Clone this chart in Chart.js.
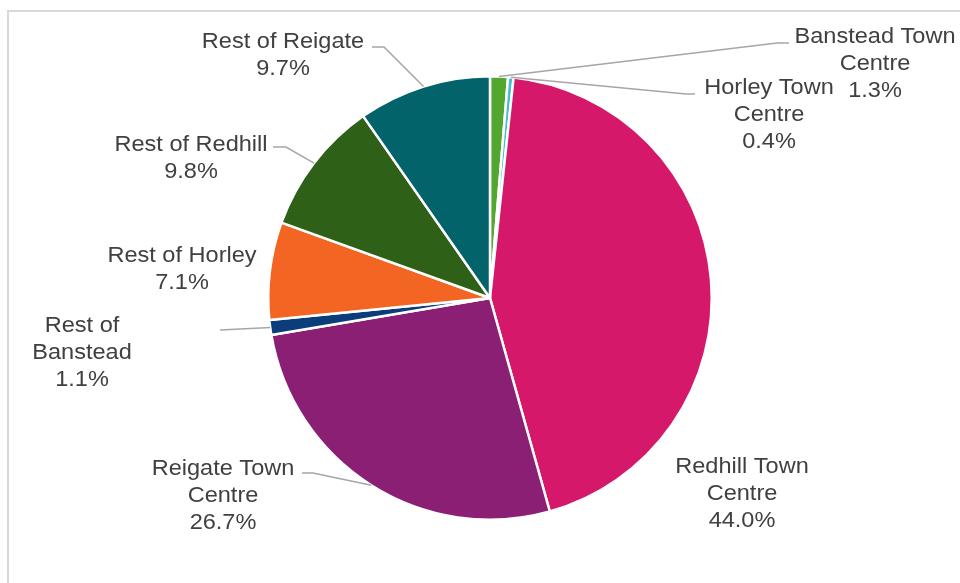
<!DOCTYPE html>
<html>
<head>
<meta charset="utf-8">
<title>Share by area</title>
<script src="https://cdn.jsdelivr.net/npm/chart.js@4.4.0/dist/chart.umd.min.js"></script>
<style>
  html, body { margin: 0; padding: 0; background: #ffffff; }
  #wrap { width: 960px; height: 583px; }
</style>
</head>
<body>
<div id="wrap"><canvas id="pie" width="960" height="583"></canvas></div>
<script>
// Areas, clockwise from the top of the pie
const categories = [
  'Banstead Town Centre',
  'Horley Town Centre',
  'Redhill Town Centre',
  'Reigate Town Centre',
  'Rest of Banstead',
  'Rest of Horley',
  'Rest of Redhill',
  'Rest of Reigate'
];

// Share of the total, per cent
const shares = [1.3, 0.4, 44.0, 26.7, 1.1, 7.1, 9.8, 9.7];

const sliceColours = [
  '#52A72E', '#45BCD0', '#D5186A', '#8A1F73',
  '#0B3D7A', '#F26522', '#2E6017', '#02636A'
];

// Label placement: centre x, first baseline y, wrap width,
// and the leader line's start and elbow (null = no leader)
const labelLayout = [
  { x: 875, y: 43,  wrap: 170, from: [789, 43],  elbow: [777, 43] },
  { x: 769, y: 94,  wrap: 140, from: [695, 94],  elbow: [686, 94] },
  { x: 742, y: 473, wrap: 150, from: null,       elbow: null },
  { x: 223, y: 475, wrap: 160, from: [302, 473], elbow: [313, 473] },
  { x: 82,  y: 332, wrap: 105, from: [220, 330], elbow: null },
  { x: 182, y: 262, wrap: 200, from: null,       elbow: null },
  { x: 191, y: 151, wrap: 200, from: [273, 147], elbow: [286, 147] },
  { x: 283, y: 48,  wrap: 200, from: [372, 47],  elbow: [384, 47] }
];

const framePlugin = {
  id: 'frame',
  beforeDraw(chart) {
    const ctx = chart.ctx;
    ctx.save();
    ctx.strokeStyle = '#D9D9D9';
    ctx.lineWidth = 2;
    ctx.strokeRect(8, 11, 1000, 700);
    ctx.restore();
  }
};

function wrapWords(ctx, text, maxWidth, sx) {
  const words = text.split(' ');
  const lines = [];
  let line = '';
  words.forEach(w => {
    const test = line ? line + ' ' + w : w;
    if (line && ctx.measureText(test).width * sx > maxWidth) {
      lines.push(line);
      line = w;
    } else {
      line = test;
    }
  });
  if (line) lines.push(line);
  return lines;
}

const sliceLabels = {
  id: 'sliceLabels',
  afterDatasetsDraw(chart, args, opts) {
    const ctx = chart.ctx;
    const meta = chart.getDatasetMeta(0);
    const data = chart.data.datasets[0].data;
    const sx = opts.stretch;
    ctx.save();
    ctx.font = opts.font;
    meta.data.forEach((arc, i) => {
      const L = opts.layout[i];
      const p = arc.getProps(['x', 'y', 'startAngle', 'endAngle', 'outerRadius'], true);
      const mid = (p.startAngle + p.endAngle) / 2;
      const ex = p.x + Math.cos(mid) * p.outerRadius;
      const ey = p.y + Math.sin(mid) * p.outerRadius;

      if (L.from) {
        ctx.strokeStyle = opts.leaderColour;
        ctx.lineWidth = 1.5;
        ctx.beginPath();
        ctx.moveTo(L.from[0], L.from[1]);
        if (L.elbow) ctx.lineTo(L.elbow[0], L.elbow[1]);
        ctx.lineTo(ex, ey);
        ctx.stroke();
      }

      const lines = wrapWords(ctx, chart.data.labels[i], L.wrap, sx);
      lines.push(data[i].toFixed(1) + '%');
      ctx.fillStyle = opts.colour;
      ctx.textAlign = 'center';
      ctx.textBaseline = 'alphabetic';
      lines.forEach((t, k) => {
        ctx.save();
        ctx.translate(L.x, L.y + k * opts.lineHeight);
        ctx.scale(sx, 1);
        ctx.fillText(t, 0, 0);
        ctx.restore();
      });
    });
    ctx.restore();
  }
};

new Chart(document.getElementById('pie'), {
  type: 'pie',
  data: {
    labels: categories,
    datasets: [{
      data: shares,
      backgroundColor: sliceColours,
      borderColor: '#ffffff',
      borderWidth: 2.5
    }]
  },
  options: {
    responsive: false,
    animation: false,
    layout: { padding: { top: 75, bottom: 62, left: 267, right: 247 } },
    plugins: {
      legend: { display: false },
      tooltip: { enabled: false },
      sliceLabels: {
        layout: labelLayout,
        font: '22px "Liberation Sans", Arial, sans-serif',
        stretch: 1.07,
        lineHeight: 27,
        colour: '#404040',
        leaderColour: '#A6A6A6'
      }
    }
  },
  plugins: [framePlugin, sliceLabels]
});
</script>
</body>
</html>
